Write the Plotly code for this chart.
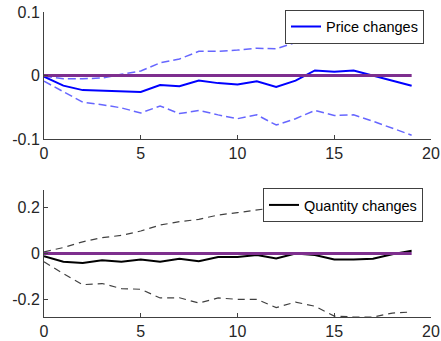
import plotly.graph_objects as go

horizon = list(range(20))

price_irf = [-0.002, -0.016, -0.023, -0.024, -0.026, -0.026, -0.015, -0.017, -0.008, -0.012,
             -0.014, -0.009, -0.018, -0.008, 0.008, 0.006, 0.008, 0.0, -0.007, -0.016]
price_upper = [-0.001, -0.005, -0.005, -0.004, 0.002, 0.007, 0.020, 0.026, 0.038, 0.038,
               0.040, 0.043, 0.042, 0.052, 0.066, 0.070, 0.074, 0.078, 0.082, 0.086]
price_lower = [-0.009, -0.025, -0.042, -0.046, -0.051, -0.059, -0.048, -0.060, -0.055, -0.062,
               -0.068, -0.062, -0.078, -0.068, -0.055, -0.063, -0.062, -0.072, -0.083, -0.094]

qty_irf = [-0.012, -0.036, -0.041, -0.029, -0.036, -0.026, -0.036, -0.023, -0.034, -0.015,
           -0.015, -0.007, -0.022, 0.0, -0.007, -0.026, -0.026, -0.023, -0.003, 0.012]
qty_upper = [0.007, 0.026, 0.051, 0.069, 0.079, 0.098, 0.124, 0.139, 0.149, 0.168,
             0.178, 0.190, 0.203, 0.213, 0.223, 0.233, 0.243, 0.253, 0.265, 0.278]
qty_lower = [-0.036, -0.088, -0.136, -0.131, -0.153, -0.156, -0.194, -0.193, -0.216, -0.194,
             -0.200, -0.200, -0.236, -0.212, -0.230, -0.273, -0.277, -0.277, -0.260, -0.255]

zero_line = [0.0] * 20

W, H = 441, 341
FONT = "Liberation Sans"
AX = "#404040"
PURPLE = "#7E2F8E"

fig = go.Figure()

# Top panel
fig.add_trace(go.Scatter(x=horizon, y=price_irf, mode="lines", name="Price changes",
                         line=dict(color="#0000FF", width=2), xaxis="x", yaxis="y",
                         legend="legend"))
fig.add_trace(go.Scatter(x=horizon, y=price_upper, mode="lines", showlegend=False,
                         line=dict(color="rgba(0,0,255,0.6)", width=1.5, dash="8px,4px"),
                         xaxis="x", yaxis="y"))
fig.add_trace(go.Scatter(x=horizon, y=price_lower, mode="lines", showlegend=False,
                         line=dict(color="rgba(0,0,255,0.6)", width=1.5, dash="8px,4px"),
                         xaxis="x", yaxis="y"))
fig.add_trace(go.Scatter(x=horizon, y=zero_line, mode="lines", showlegend=False,
                         line=dict(color=PURPLE, width=3), xaxis="x", yaxis="y"))

# Bottom panel
fig.add_trace(go.Scatter(x=horizon, y=qty_irf, mode="lines", name="Quantity changes",
                         line=dict(color="#000000", width=2), xaxis="x2", yaxis="y2",
                         legend="legend2"))
fig.add_trace(go.Scatter(x=horizon, y=qty_upper, mode="lines", showlegend=False,
                         line=dict(color="rgba(0,0,0,0.75)", width=1.2, dash="7px,5px"),
                         xaxis="x2", yaxis="y2"))
fig.add_trace(go.Scatter(x=horizon, y=qty_lower, mode="lines", showlegend=False,
                         line=dict(color="rgba(0,0,0,0.75)", width=1.2, dash="7px,5px"),
                         xaxis="x2", yaxis="y2"))
fig.add_trace(go.Scatter(x=horizon, y=zero_line, mode="lines", showlegend=False,
                         line=dict(color=PURPLE, width=3), xaxis="x2", yaxis="y2"))

def px_x(p):
    return p / W

def px_y(p):
    return 1 - p / H

axis_common = dict(showline=True, linecolor=AX, linewidth=1, ticks="inside", ticklen=4,
                   tickcolor=AX, showgrid=False, zeroline=False, automargin=False,
                   tickfont=dict(family=FONT, size=16, color="#262626"), mirror=False)

fig.update_layout(
    width=W, height=H, margin=dict(l=0, r=0, t=0, b=0, autoexpand=False),
    paper_bgcolor="white", plot_bgcolor="white",
    xaxis=dict(domain=[px_x(44), px_x(431)], range=[0, 20], tickvals=[0, 5, 10, 15, 20],
               anchor="y", **axis_common),
    yaxis=dict(domain=[px_y(139), px_y(12)], range=[-0.1, 0.1], tickvals=[-0.1, 0, 0.1],
               ticktext=["-0.1", "0", "0.1"], anchor="x", **axis_common),
    xaxis2=dict(domain=[px_x(44), px_x(431)], range=[0, 20], tickvals=[0, 5, 10, 15, 20],
                anchor="y2", **axis_common),
    yaxis2=dict(domain=[px_y(317), px_y(190)], range=[-0.277, 0.277], tickvals=[-0.2, 0, 0.2],
                ticktext=["-0.2", "0", "0.2"], anchor="x2", **axis_common),
    legend=dict(x=px_x(424), y=px_y(26.5), xanchor="right", yanchor="middle",
                bgcolor="white", bordercolor=AX, borderwidth=1,
                font=dict(family=FONT, size=14.5, color="#000000"),
                tracegroupgap=0, itemwidth=30),
    legend2=dict(x=px_x(423), y=px_y(205), xanchor="right", yanchor="middle",
                 bgcolor="white", bordercolor=AX, borderwidth=1,
                 font=dict(family=FONT, size=14.5, color="#000000"),
                 tracegroupgap=0, itemwidth=30),
)

fig.write_html("out.html")
